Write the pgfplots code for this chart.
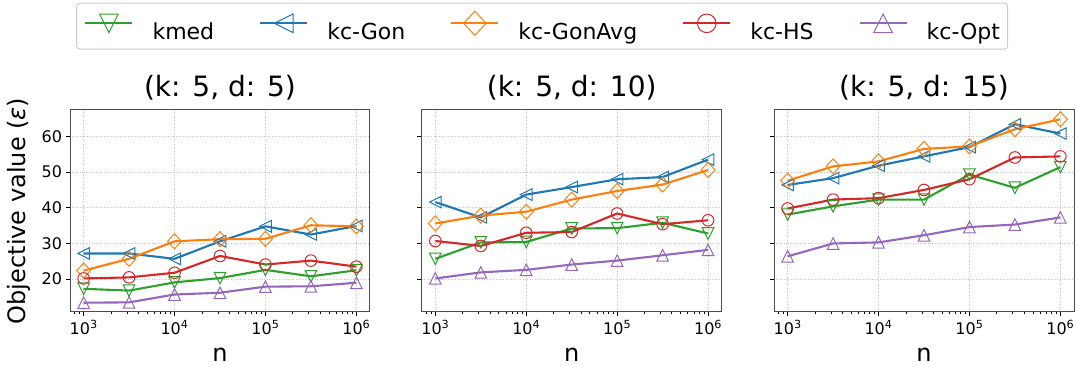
\documentclass[border=0pt]{standalone}
\usepackage{pgfplots}
\pgfplotsset{compat=1.18}
\usepackage{pgfplotstable}
\usepackage{fontspec}
\setmainfont{DejaVu Sans}
\usetikzlibrary{plotmarks}

\definecolor{tblue}{HTML}{1F77B4}
\definecolor{torange}{HTML}{FF7F0E}
\definecolor{tgreen}{HTML}{2CA02C}
\definecolor{tred}{HTML}{D62728}
\definecolor{tpurple}{HTML}{9467BD}

\pgfdeclareplotmark{mtriu}{%
  \pgfpathmoveto{\pgfqpoint{0pt}{\pgfplotmarksize}}%
  \pgfpathlineto{\pgfqpoint{-\pgfplotmarksize}{-\pgfplotmarksize}}%
  \pgfpathlineto{\pgfqpoint{\pgfplotmarksize}{-\pgfplotmarksize}}%
  \pgfpathclose\pgfusepathqstroke}
\pgfdeclareplotmark{mtrid}{%
  \pgfpathmoveto{\pgfqpoint{0pt}{-\pgfplotmarksize}}%
  \pgfpathlineto{\pgfqpoint{-\pgfplotmarksize}{\pgfplotmarksize}}%
  \pgfpathlineto{\pgfqpoint{\pgfplotmarksize}{\pgfplotmarksize}}%
  \pgfpathclose\pgfusepathqstroke}
\pgfdeclareplotmark{mtril}{%
  \pgfpathmoveto{\pgfqpoint{-\pgfplotmarksize}{0pt}}%
  \pgfpathlineto{\pgfqpoint{\pgfplotmarksize}{\pgfplotmarksize}}%
  \pgfpathlineto{\pgfqpoint{\pgfplotmarksize}{-\pgfplotmarksize}}%
  \pgfpathclose\pgfusepathqstroke}
\pgfdeclareplotmark{mdia}{%
  \pgfpathmoveto{\pgfqpoint{0pt}{1.3\pgfplotmarksize}}%
  \pgfpathlineto{\pgfqpoint{1.2\pgfplotmarksize}{0pt}}%
  \pgfpathlineto{\pgfqpoint{0pt}{-1.3\pgfplotmarksize}}%
  \pgfpathlineto{\pgfqpoint{-1.2\pgfplotmarksize}{0pt}}%
  \pgfpathclose\pgfusepathqstroke}
\pgfdeclareplotmark{mcirc}{%
  \pgfpathcircle{\pgfpointorigin}{\pgfplotmarksize}\pgfusepathqstroke}

\pgfplotstableread{
n kmed gon gonavg hs opt
1000 17.3 27.2 22.4 20.2 13.4
3162.28 16.8 27.2 25.7 20.5 13.5
10000 19.1 25.7 30.6 21.8 15.7
31622.8 20.3 30.6 31.2 26.5 16.2
100000 22.6 34.8 31.3 24.1 17.9
316228 20.8 32.5 35.1 25.2 18.0
1000000 22.5 34.9 34.8 23.5 19.0
}\tabA
\pgfplotstableread{
n kmed gon gonavg hs opt
1000 25.7 41.6 35.6 30.7 20.2
3162.28 30.3 37.3 37.8 29.3 21.9
10000 30.4 43.7 38.9 33.0 22.6
31622.8 34.2 45.8 42.3 33.2 24.1
100000 34.3 48.0 44.7 38.4 25.2
316228 35.8 48.6 46.5 35.4 26.7
1000000 32.8 53.5 50.6 36.5 28.2
}\tabB
\pgfplotstableread{
n kmed gon gonavg hs opt
1000 38.1 46.4 47.6 39.8 26.4
3162.28 40.4 48.3 51.6 42.3 30.0
10000 42.3 51.8 53.0 42.7 30.3
31622.8 42.3 54.4 56.5 45.0 32.3
100000 49.3 57.0 57.2 48.0 34.6
316228 45.6 63.4 62.0 54.1 35.3
1000000 51.4 60.8 64.8 54.4 37.3
}\tabC

\tikzset{
  skmed/.style={color=tgreen, mark=mtrid},
  sgon/.style={color=tblue, mark=mtril},
  sgonavg/.style={color=torange, mark=mdia},
  shs/.style={color=tred, mark=mcirc},
  sopt/.style={color=tpurple, mark=mtriu},
}

\pgfplotsset{
    scale only axis, width=300pt, height=202pt,
    xmin=707.9, xmax=1412538, ymin=10.8, ymax=67.4,
    ytick={20,30,40,50,60},
    tick align=outside, xtick pos=bottom, ytick pos=left,
    major tick length=4.5pt, minor tick length=2.5pt,
    xmajorgrids, ymajorgrids,
    major grid style={dotted, black!22, line width=0.7pt},
    axis line style={black!70, line width=1pt},
    tick style={black, line width=0.8pt},
    ticklabel style={font=\fontsize{16}{19}\selectfont},
    /pgf/number format/assume math mode=true,
}
\pgfplotsset{
    title style={font=\fontsize{28}{33}\selectfont, at={(axis description cs:0.5,1)}, anchor=base, yshift=7.3pt},
    xlabel style={font=\fontsize{24}{28}\selectfont, at={(axis description cs:0.5,0)}, anchor=base, yshift=-49.7pt},
    every axis plot/.append style={line width=2.1pt, mark size=5.8pt, mark options={solid, line width=1pt}},
}

\begin{document}
\begin{tikzpicture}
\useasboundingbox (-70pt,-54pt) rectangle (1007pt,312pt);
\begin{semilogxaxis}[at={(0pt,0pt)}, anchor=south west,
  xtick={1e3,1e4,1e5,1e6},
  xticklabels={10\textsuperscript{3},10\textsuperscript{4},10\textsuperscript{5},10\textsuperscript{6}},
  minor xtick={800,900,2000,3000,4000,5000,6000,7000,8000,9000,20000,30000,40000,50000,60000,70000,80000,90000,200000,300000,400000,500000,600000,700000,800000,900000},
  title={(k: 5, d: 5)}, xlabel={n},
  ylabel={Objective value (\textit{ε})},
  ylabel style={font=\fontsize{24}{28}\selectfont, at={(axis description cs:-0.1483,0.5)}, anchor=base},
  legend columns=5,
  legend cell align=left,
  legend image code/.code={\draw[#1, mark size=9.3pt, mark repeat=2, mark phase=2] plot coordinates {(0pt,8.6pt) (23.5pt,8.6pt) (47pt,8.6pt)};},
  legend style={at={(axis description cs:1.574,1.531)}, anchor=north,
    draw=black!20, line width=1pt, rounded corners=3pt,
    font=\fontsize{22}{26}\selectfont,
    inner xsep=7.7pt, inner ysep=8pt,
    nodes={inner xsep=0pt, inner ysep=0pt},
    /tikz/every odd column/.append style={column sep=19pt},
    /tikz/every even column/.append style={column sep=45pt}},
]
\addplot[skmed] table[x=n,y=kmed] {\tabA};
\addplot[sgon] table[x=n,y=gon] {\tabA};
\addplot[sgonavg] table[x=n,y=gonavg] {\tabA};
\addplot[shs] table[x=n,y=hs] {\tabA};
\addplot[sopt] table[x=n,y=opt] {\tabA};
\legend{kmed,kc-Gon,kc-GonAvg,kc-HS,kc-Opt}
\end{semilogxaxis}
\begin{semilogxaxis}[at={(351.7pt,0pt)}, anchor=south west,
  xtick={1e3,1e4,1e5,1e6},
  xticklabels={10\textsuperscript{3},10\textsuperscript{4},10\textsuperscript{5},10\textsuperscript{6}},
  minor xtick={800,900,2000,3000,4000,5000,6000,7000,8000,9000,20000,30000,40000,50000,60000,70000,80000,90000,200000,300000,400000,500000,600000,700000,800000,900000},
  title={(k: 5, d: 10)}, xlabel={n}, yticklabels={}]
\addplot[skmed] table[x=n,y=kmed] {\tabB};
\addplot[sgon] table[x=n,y=gon] {\tabB};
\addplot[sgonavg] table[x=n,y=gonavg] {\tabB};
\addplot[shs] table[x=n,y=hs] {\tabB};
\addplot[sopt] table[x=n,y=opt] {\tabB};
\end{semilogxaxis}
\begin{semilogxaxis}[at={(704pt,0pt)}, anchor=south west,
  xtick={1e3,1e4,1e5,1e6},
  xticklabels={10\textsuperscript{3},10\textsuperscript{4},10\textsuperscript{5},10\textsuperscript{6}},
  minor xtick={800,900,2000,3000,4000,5000,6000,7000,8000,9000,20000,30000,40000,50000,60000,70000,80000,90000,200000,300000,400000,500000,600000,700000,800000,900000},
  title={(k: 5, d: 15)}, xlabel={n}, yticklabels={}]
\addplot[skmed] table[x=n,y=kmed] {\tabC};
\addplot[sgon] table[x=n,y=gon] {\tabC};
\addplot[sgonavg] table[x=n,y=gonavg] {\tabC};
\addplot[shs] table[x=n,y=hs] {\tabC};
\addplot[sopt] table[x=n,y=opt] {\tabC};
\end{semilogxaxis}
\end{tikzpicture}
\end{document}
